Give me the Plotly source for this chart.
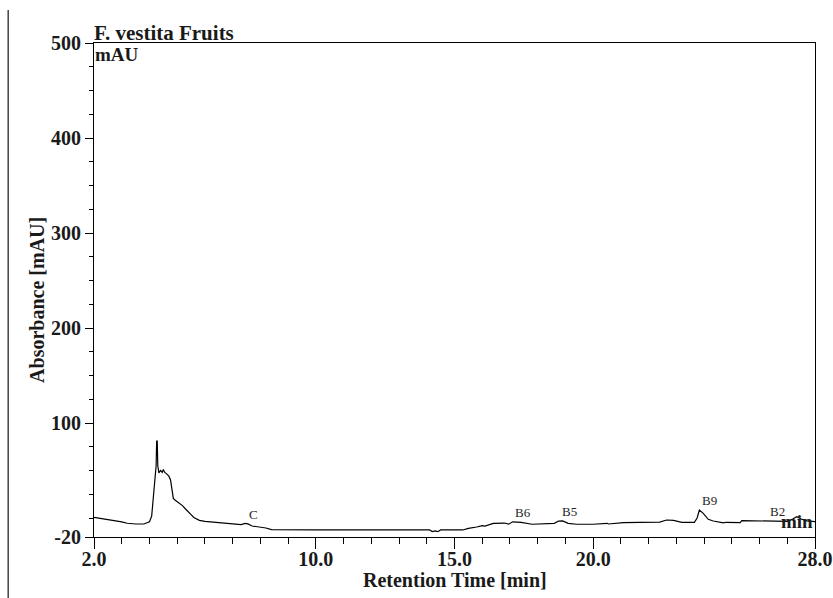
import plotly.graph_objects as go

# ---- data ----
time_min = [2.0, 2.5, 3.0, 3.2, 3.5, 3.8, 4.0, 4.08, 4.14, 4.2, 4.24, 4.26, 4.28, 4.30,
            4.34, 4.40, 4.46, 4.50, 4.55, 4.62, 4.70, 4.76, 4.82, 4.86, 4.92, 5.0, 5.1,
            5.2, 5.3, 5.4, 5.5, 5.6, 5.8, 6.0, 6.4, 6.8, 7.0, 7.3, 7.45, 7.55, 7.7, 8.0,
            8.2, 8.4, 9.0, 10.0, 12.0, 14.1, 14.2, 14.3, 14.4, 14.5, 15.3, 15.5, 15.8,
            16.0, 16.1, 16.4, 16.8, 16.95, 17.1, 17.4, 17.8, 18.2, 18.6, 18.75, 18.9,
            19.1, 19.4, 20.0, 20.5, 20.55, 21.1, 21.7, 22.4, 22.65, 22.9, 23.2, 23.65,
            23.75, 23.83, 23.97, 24.15, 24.33, 24.6, 24.7, 24.8, 25.3, 25.36, 26.6,
            27.0, 27.2, 27.34, 27.5, 27.7, 28.0]
absorbance = [0.7, -1.5, -4.0, -5.5, -6.3, -6.3, -4.0, 2.0, 22.0, 45.0, 55.0, 81.0, 81.0,
              55.0, 47.5, 50.0, 48.0, 51.0, 48.0, 46.5, 44.0, 40.0, 25.0, 20.7, 19.0,
              17.2, 15.0, 12.8, 9.5, 7.0, 3.5, 0.5, -2.5, -3.5, -4.5, -5.5, -6.6, -6.9,
              -5.6, -6.2, -8.4, -9.2, -10.5, -12.3, -12.6, -12.6, -12.6, -12.6, -14.2,
              -13.5, -14.4, -12.6, -12.6, -10.9, -9.5, -8.0, -8.6, -5.6, -5.3, -6.5,
              -4.0, -4.7, -6.6, -6.0, -5.6, -3.2, -3.0, -5.6, -6.6, -6.6, -5.6, -6.3,
              -4.9, -4.6, -4.3, -2.1, -2.6, -4.5, -4.6, 0.0, 8.4, 4.9, -1.4, -3.2,
              -4.3, -5.2, -4.5, -4.8, -2.8, -2.8, -3.5, -1.0, 1.4, -1.0, -3.0, -3.9]

peak_names = ["C", "B6", "B5", "B9", "B2"]
peak_times = [7.75, 17.47, 19.13, 24.2, 26.63]
peak_label_y = [3.2, 5.3, 6.6, 18.2, 6.6]

x_tick_vals = [2.0, 5.0, 10.0, 15.0, 20.0, 25.0, 28.0]
x_tick_text = ["2.0", "", "10.0", "15.0", "20.0", "", "28.0"]
x_minor_vals = [float(v) for v in range(3, 28)]
y_tick_vals = [-20, 100, 200, 300, 400, 500]
y_tick_text = ["-20", "100", "200", "300", "400", "500"]
y_minor_vals = [v for v in range(0, 500, 25)]

SERIF = "Liberation Serif, Times New Roman, serif"
TXT = "#1a1a1a"

fig = go.Figure()
fig.add_trace(go.Scatter(x=time_min, y=absorbance, mode="lines",
                         line=dict(color="black", width=1.2), hoverinfo="x+y",
                         showlegend=False))

annotations = []
for name, t, yv in zip(peak_names, peak_times, peak_label_y):
    annotations.append(dict(x=t, y=yv, xref="x", yref="y", text=name, showarrow=False,
                            font=dict(family=SERIF, size=13, color="#262626"),
                            xanchor="center", yanchor="middle"))

annotations += [
    dict(x=0, y=1, xref="paper", yref="paper", text="<b>F. vestita Fruits</b>",
         showarrow=False, xanchor="left", yanchor="bottom", xshift=-2, yshift=-4,
         font=dict(family=SERIF, size=21, color=TXT)),
    dict(x=0, y=1, xref="paper", yref="paper", text="<b>mAU</b>",
         showarrow=False, xanchor="left", yanchor="top", xshift=-1, yshift=1,
         font=dict(family=SERIF, size=19, color=TXT)),
    dict(x=1, y=0, xref="paper", yref="paper", text="<b>min</b>",
         showarrow=False, xanchor="right", yanchor="bottom", xshift=0, yshift=3,
         font=dict(family=SERIF, size=19, color=TXT)),
    dict(x=0.5, y=-0.088, xref="paper", yref="paper", text="<b>Retention Time [min]</b>",
         showarrow=False, xanchor="center", yanchor="middle",
         font=dict(family=SERIF, size=20, color=TXT)),
    dict(x=-0.079, y=0.48, xref="paper", yref="paper", text="<b>Absorbance [mAU]</b>",
         showarrow=False, xanchor="center", yanchor="middle", textangle=-90,
         font=dict(family=SERIF, size=20, color=TXT)),
]

fig.update_layout(
    width=833, height=598,
    margin=dict(l=94, r=18, t=43, b=61, autoexpand=False),
    paper_bgcolor="white", plot_bgcolor="white",
    annotations=annotations,
    shapes=[dict(type="line", xref="paper", yref="paper",
                 x0=-0.119, x1=-0.119, y0=-0.2, y1=1.067,
                 line=dict(color="#444444", width=1.5))],
    xaxis=dict(range=[2.0, 28.0], showgrid=False, zeroline=False, automargin=False,
               showline=True, linecolor="black", linewidth=1.2, mirror=True,
               ticks="outside", ticklen=11, tickwidth=1.2, tickcolor="black",
               tickmode="array", tickvals=x_tick_vals, ticktext=x_tick_text,
               ticklabelstandoff=-7,
               tickfont=dict(family=SERIF, size=20, color=TXT, weight="bold"),
               minor=dict(tickmode="array", tickvals=x_minor_vals, ticks="outside",
                          ticklen=6, tickwidth=1.2, tickcolor="black", showgrid=False)),
    yaxis=dict(range=[-20, 500], showgrid=False, zeroline=False, automargin=False,
               showline=True, linecolor="black", linewidth=1.2, mirror=True,
               ticks="outside", ticklen=8, tickwidth=1.2, tickcolor="black",
               tickmode="array", tickvals=y_tick_vals, ticktext=y_tick_text,
               ticklabelstandoff=0,
               tickfont=dict(family=SERIF, size=20, color=TXT, weight="bold"),
               minor=dict(tickmode="array", tickvals=y_minor_vals, ticks="outside",
                          ticklen=4, tickwidth=1.2, tickcolor="black", showgrid=False)),
)

fig.write_html("out.html", config={"displayModeBar": False},
               post_script="document.body.style.margin='0';document.body.style.overflow='hidden';")
